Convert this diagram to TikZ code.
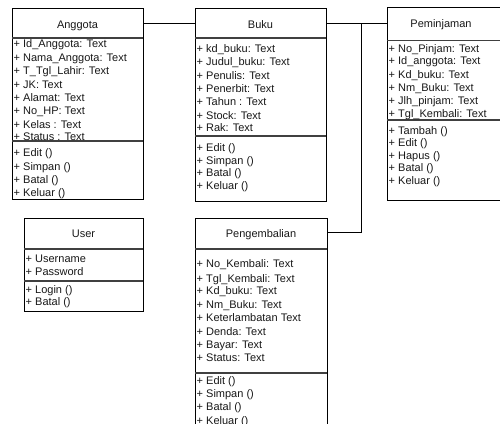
\documentclass[tikz,border=0pt]{standalone}
\usepackage{fontspec}
\setmainfont{Liberation Sans}
\begin{document}
\begin{tikzpicture}[x=1pt,y=-1pt,
  cls/.style={draw=black,line width=0.8pt,anchor=north west,inner sep=0pt},
  sep/.style={draw=black!75,line width=1.3pt},
  txt/.style={anchor=base west,inner sep=0pt,font=\fontsize{11}{13}\selectfont,text=black!90},
  ttl/.style={anchor=base,inner sep=0pt,font=\fontsize{11}{13}\selectfont,text=black!90},
  conn/.style={draw=black,line width=0.8pt}]
\useasboundingbox (0,0) rectangle (500,423);
\clip (0,0) rectangle (500,423);
\fill[white] (0,0) rectangle (500,423);

% ---------- Anggota ----------
\node[cls,minimum width=131pt,minimum height=191pt] (anggota) at (12,8) {};
\node[ttl] (anggotaT) at (77.5,28) {Anggota};
\draw[sep] (12,38) -- (143,38);
\draw[sep] (12,141) -- (143,141);
\foreach \t/\y [count=\i] in {{+ Id\_Anggota: Text}/43.3,{+ Nama\_Anggota: Text}/57,{+ T\_Tgl\_Lahir: Text}/70.5,{+ JK: Text}/84,{+ Alamat: Text}/97.3,{+ No\_HP: Text}/110.7,{+ Kelas : Text}/124,{+ Status : Text}/136.5}
  \node[txt] (aa\i) at (13.5,\y+4) {\t};
\foreach \t/\y [count=\i] in {{+ Edit ()}/152.7,{+ Simpan ()}/166.5,{+ Batal ()}/179.5,{+ Keluar ()}/192.5}
  \node[txt] (am\i) at (13.5,\y+4) {\t};

% ---------- Buku ----------
\node[cls,minimum width=131pt,minimum height=193pt] (buku) at (195,8) {};
\node[ttl] (bukuT) at (260.5,28) {Buku};
\draw[sep] (195,38) -- (326,38);
\draw[sep] (195,136) -- (326,136);
\foreach \t/\y [count=\i] in {{+ kd\_buku: Text}/48,{+ Judul\_buku: Text}/61.5,{+ Penulis: Text}/75,{+ Penerbit: Text}/88.5,{+ Tahun : Text}/101.5,{+ Stock: Text}/115,{+ Rak: Text}/127.5}
  \node[txt] (ba\i) at (196.5,\y+4) {\t};
\foreach \t/\y [count=\i] in {{+ Edit ()}/147.5,{+ Simpan ()}/160,{+ Batal ()}/172.5,{+ Keluar ()}/185}
  \node[txt] (bm\i) at (196.5,\y+4) {\t};

% ---------- Peminjaman ----------
\node[cls,minimum width=123pt,minimum height=193pt] (peminjaman) at (387,7) {};
\node[ttl] (peminjamanT) at (441,27.3) {Peminjaman};
\draw[sep] (387,40.5) -- (510,40.5);
\draw[sep] (387,120) -- (510,120);
\foreach \t/\y [count=\i] in {{+ No\_Pinjam: Text}/48.3,{+ Id\_anggota: Text}/60.7,{+ Kd\_buku: Text}/74,{+ Nm\_Buku: Text}/87.3,{+ Jlh\_pinjam: Text}/100,{+ Tgl\_Kembali: Text}/113.3}
  \node[txt] (pa\i) at (388.5,\y+4) {\t};
\foreach \t/\y [count=\i] in {{+ Tambah ()}/130,{+ Edit ()}/142.7,{+ Hapus ()}/155,{+ Batal ()}/167.7,{+ Keluar ()}/180}
  \node[txt] (pm\i) at (388.5,\y+4) {\t};

% ---------- User ----------
\node[cls,minimum width=119pt,minimum height=93pt] (user) at (24,218) {};
\node[ttl] (userT) at (83.5,237.3) {User};
\draw[sep] (24,249) -- (143,249);
\draw[sep] (24,281) -- (143,281);
\node[txt] (ua1) at (25.5,262.3) {+ Username};
\node[txt] (ua2) at (25.5,275) {+ Password};
\node[txt] (um1) at (25.5,293.3) {+ Login ()};
\node[txt] (um2) at (25.5,305) {+ Batal ()};

% ---------- Pengembalian ----------
\node[cls,minimum width=132pt,minimum height=222pt] (pengembalian) at (195,218) {};
\node[ttl] (pengembalianT) at (261,237.3) {Pengembalian};
\draw[sep] (195,249) -- (327,249);
\draw[sep] (195,373) -- (327,373);
\foreach \t/\y [count=\i] in {{+ No\_Kembali: Text}/263.3,{+ Tgl\_Kembali: Text}/278.3,{+ Kd\_buku: Text}/290.7,{+ Nm\_Buku: Text}/304,{+ Keterlambatan Text}/317.7,{+ Denda: Text}/331,{+ Bayar: Text}/344.3,{+ Status: Text}/357.7}
  \node[txt] (ga\i) at (196.5,\y+4) {\t};
\foreach \t/\y [count=\i] in {{+ Edit ()}/380.7,{+ Simpan ()}/393.3,{+ Batal ()}/406.7,{+ Keluar ()}/420}
  \node[txt] (gm\i) at (196.5,\y+4) {\t};

% ---------- Connectors ----------
\coordinate (row) at (0,23);
\coordinate (lowrow) at (0,232);
\coordinate (junction) at (361,23);
\draw[conn] (anggota.east |- row) -- (buku.west |- row);
\draw[conn] (buku.east |- row) -- (peminjaman.west |- row);
\draw[conn] (junction) |- (pengembalian.east |- lowrow);
\end{tikzpicture}
\end{document}
